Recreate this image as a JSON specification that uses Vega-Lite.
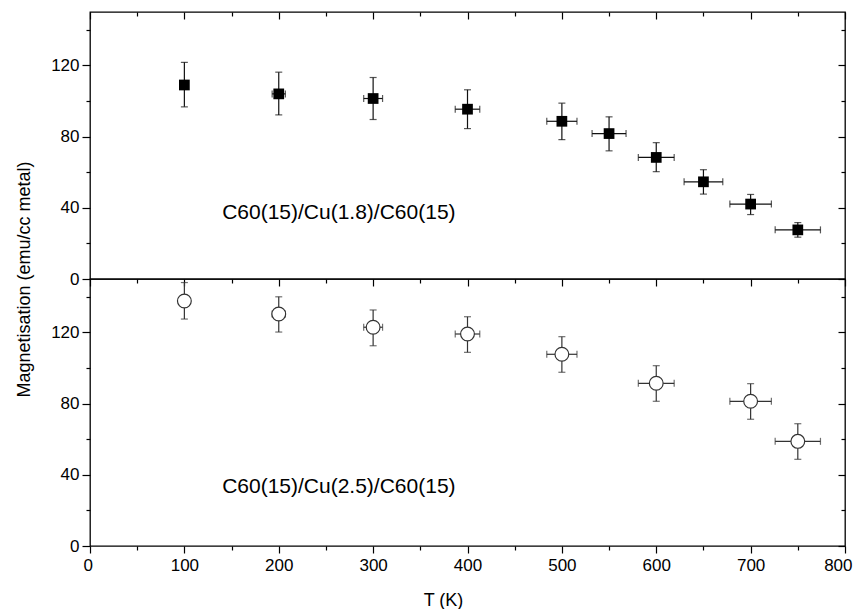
{
  "$schema": "https://vega.github.io/schema/vega-lite/v6.json",
  "padding": {"left": 14, "top": 10, "right": 3, "bottom": 0},
  "background": "white",
  "datasets": {
    "cu18": [
      {"T": 100, "M": 109.0, "Mlo": 96.7, "Mhi": 121.7, "Tlo": 100, "Thi": 100},
      {"T": 200, "M": 104.0, "Mlo": 92.2, "Mhi": 116.2, "Tlo": 193, "Thi": 207},
      {"T": 300, "M": 101.4, "Mlo": 89.6, "Mhi": 113.2, "Tlo": 290, "Thi": 310},
      {"T": 400, "M": 95.4, "Mlo": 84.5, "Mhi": 106.3, "Tlo": 387, "Thi": 413},
      {"T": 500, "M": 88.6, "Mlo": 78.3, "Mhi": 98.8, "Tlo": 484, "Thi": 516},
      {"T": 550, "M": 81.7, "Mlo": 72.0, "Mhi": 91.1, "Tlo": 532, "Thi": 568},
      {"T": 600, "M": 68.3, "Mlo": 60.3, "Mhi": 76.6, "Tlo": 581, "Thi": 619},
      {"T": 650, "M": 54.6, "Mlo": 47.7, "Mhi": 61.4, "Tlo": 629.5, "Thi": 670.5},
      {"T": 700, "M": 42.1, "Mlo": 36.2, "Mhi": 47.5, "Tlo": 678, "Thi": 722},
      {"T": 750, "M": 27.6, "Mlo": 23.5, "Mhi": 31.7, "Tlo": 726, "Thi": 774}
    ],
    "cu25": [
      {"T": 100, "M": 137.6, "Mlo": 127.5, "Mhi": 148.0, "Tlo": 95, "Thi": 105},
      {"T": 200, "M": 130.3, "Mlo": 120.2, "Mhi": 140.0, "Tlo": 193, "Thi": 207},
      {"T": 300, "M": 122.9, "Mlo": 112.5, "Mhi": 132.6, "Tlo": 290, "Thi": 310},
      {"T": 400, "M": 119.1, "Mlo": 108.8, "Mhi": 128.8, "Tlo": 387, "Thi": 413},
      {"T": 500, "M": 107.7, "Mlo": 97.6, "Mhi": 117.6, "Tlo": 484, "Thi": 516},
      {"T": 600, "M": 91.4, "Mlo": 81.3, "Mhi": 101.3, "Tlo": 581, "Thi": 619},
      {"T": 700, "M": 81.3, "Mlo": 71.2, "Mhi": 91.2, "Tlo": 678, "Thi": 722},
      {"T": 750, "M": 58.8, "Mlo": 48.7, "Mhi": 68.7, "Tlo": 726, "Thi": 774}
    ],
    "labels18": [{"T": 140, "M": 37, "label": "C60(15)/Cu(1.8)/C60(15)"}],
    "labels25": [{"T": 140, "M": 33, "label": "C60(15)/Cu(2.5)/C60(15)"}]
  },
  "vconcat": [
    {
      "width": 755,
      "height": 267,
      "layer": [
        {
          "data": {"name": "cu18"},
          "mark": {"type": "rule", "color": "#111", "strokeWidth": 1.2},
          "encoding": {
            "x": {"field": "T", "type": "quantitative", "scale": {"domain": [0, 800], "nice": false},
                  "axis": {"orient": "top", "values": [0, 100, 200, 300, 400, 500, 600, 700, 800], "labels": false, "tickSize": -7, "title": null}},
            "y": {"field": "Mlo", "type": "quantitative", "scale": {"domain": [0, 150], "nice": false},
                  "axis": {"orient": "left", "values": [0, 40, 80, 120], "tickSize": 8, "labelPadding": 3,
                           "title": "Magnetisation (emu/cc metal)", "titleX": -61, "titleY": 267, "titleAngle": -90, "titleAlign": "center", "titleBaseline": "alphabetic"}},
            "y2": {"field": "Mhi"}
          }
        },
        {
          "data": {"name": "cu18"},
          "mark": {"type": "rule", "color": "#111", "strokeWidth": 1.2},
          "encoding": {
            "x": {"field": "Tlo", "type": "quantitative",
                  "axis": {"orient": "top", "values": [50, 150, 250, 350, 450, 550, 650, 750], "labels": false, "tickSize": -4, "title": null}},
            "x2": {"field": "Thi"},
            "y": {"field": "M", "type": "quantitative",
                  "axis": {"orient": "left", "values": [20, 60, 100, 140], "labels": false, "tickSize": 4, "title": null}}
          }
        },
        {
          "data": {"name": "cu18"},
          "mark": {"type": "tick", "orient": "horizontal", "color": "#111", "thickness": 1.2, "size": 7},
          "encoding": {
            "x": {"field": "T", "type": "quantitative", "axis": null},
            "y": {"field": "Mlo", "type": "quantitative",
                  "axis": {"orient": "right", "values": [0, 40, 80, 120], "labels": false, "tickSize": -7, "title": null}}
          }
        },
        {
          "data": {"name": "cu18"},
          "mark": {"type": "tick", "orient": "horizontal", "color": "#111", "thickness": 1.2, "size": 7},
          "encoding": {
            "x": {"field": "T", "type": "quantitative", "axis": null},
            "y": {"field": "Mhi", "type": "quantitative",
                  "axis": {"orient": "right", "values": [20, 60, 100, 140], "labels": false, "tickSize": -4, "title": null}}
          }
        },
        {
          "data": {"name": "cu18"},
          "mark": {"type": "tick", "orient": "vertical", "color": "#111", "thickness": 1.2, "size": 7},
          "encoding": {
            "x": {"field": "Tlo", "type": "quantitative", "axis": null},
            "y": {"field": "M", "type": "quantitative", "axis": null}
          }
        },
        {
          "data": {"name": "cu18"},
          "mark": {"type": "tick", "orient": "vertical", "color": "#111", "thickness": 1.2, "size": 7},
          "encoding": {
            "x": {"field": "Thi", "type": "quantitative", "axis": null},
            "y": {"field": "M", "type": "quantitative", "axis": null}
          }
        },
        {
          "data": {"name": "cu18"},
          "mark": {"type": "point", "shape": "square", "filled": true, "size": 115, "color": "#000", "opacity": 1},
          "encoding": {
            "x": {"field": "T", "type": "quantitative", "axis": null},
            "y": {"field": "M", "type": "quantitative", "axis": null}
          }
        },
        {
          "data": {"name": "labels18"},
          "mark": {"type": "text", "align": "left", "baseline": "middle", "fontSize": 21, "font": "Liberation Sans", "color": "#000"},
          "encoding": {
            "x": {"field": "T", "type": "quantitative", "axis": null},
            "y": {"field": "M", "type": "quantitative", "axis": null},
            "text": {"field": "label"}
          }
        }
      ],
      "resolve": {"axis": {"x": "independent", "y": "independent"}}
    },
    {
      "width": 755,
      "height": 267,
      "layer": [
        {
          "data": {"name": "cu25"},
          "mark": {"type": "rule", "color": "#333", "strokeWidth": 1.2},
          "encoding": {
            "x": {"field": "T", "type": "quantitative", "scale": {"domain": [0, 800], "nice": false},
                  "axis": {"orient": "bottom", "values": [0, 100, 200, 300, 400, 500, 600, 700, 800], "tickSize": 7, "labelPadding": 4,
                           "labelFlush": true, "labelFlushOffset": 7,
                           "title": "T (K)", "titleX": 353, "titleY": 59, "titleBaseline": "alphabetic", "titleAlign": "center"}},
            "y": {"field": "Mlo", "type": "quantitative", "scale": {"domain": [0, 150], "nice": false},
                  "axis": {"orient": "left", "values": [0, 40, 80, 120], "tickSize": 8, "labelPadding": 3, "title": null}},
            "y2": {"field": "Mhi"}
          }
        },
        {
          "data": {"name": "cu25"},
          "mark": {"type": "rule", "color": "#333", "strokeWidth": 1.2},
          "encoding": {
            "x": {"field": "Tlo", "type": "quantitative",
                  "axis": {"orient": "bottom", "values": [50, 150, 250, 350, 450, 550, 650, 750], "labels": false, "tickSize": 4, "title": null}},
            "x2": {"field": "Thi"},
            "y": {"field": "M", "type": "quantitative",
                  "axis": {"orient": "left", "values": [20, 60, 100, 140], "labels": false, "tickSize": 4, "title": null}}
          }
        },
        {
          "data": {"name": "cu25"},
          "mark": {"type": "tick", "orient": "horizontal", "color": "#333", "thickness": 1.2, "size": 7},
          "encoding": {
            "x": {"field": "T", "type": "quantitative",
                  "axis": {"orient": "top", "values": [0, 100, 200, 300, 400, 500, 600, 700, 800], "labels": false, "tickSize": -7, "title": null}},
            "y": {"field": "Mlo", "type": "quantitative",
                  "axis": {"orient": "right", "values": [0, 40, 80, 120], "labels": false, "tickSize": -7, "title": null}}
          }
        },
        {
          "data": {"name": "cu25"},
          "mark": {"type": "tick", "orient": "horizontal", "color": "#333", "thickness": 1.2, "size": 7},
          "encoding": {
            "x": {"field": "T", "type": "quantitative",
                  "axis": {"orient": "top", "values": [50, 150, 250, 350, 450, 550, 650, 750], "labels": false, "tickSize": -4, "title": null}},
            "y": {"field": "Mhi", "type": "quantitative",
                  "axis": {"orient": "right", "values": [20, 60, 100, 140], "labels": false, "tickSize": -4, "title": null}}
          }
        },
        {
          "data": {"name": "cu25"},
          "mark": {"type": "tick", "orient": "vertical", "color": "#333", "thickness": 1.2, "size": 7},
          "encoding": {
            "x": {"field": "Tlo", "type": "quantitative", "axis": null},
            "y": {"field": "M", "type": "quantitative", "axis": null}
          }
        },
        {
          "data": {"name": "cu25"},
          "mark": {"type": "tick", "orient": "vertical", "color": "#333", "thickness": 1.2, "size": 7},
          "encoding": {
            "x": {"field": "Thi", "type": "quantitative", "axis": null},
            "y": {"field": "M", "type": "quantitative", "axis": null}
          }
        },
        {
          "data": {"name": "cu25"},
          "mark": {"type": "point", "shape": "circle", "filled": false, "fill": "white", "size": 190, "stroke": "#333", "strokeWidth": 1.2, "opacity": 1},
          "encoding": {
            "x": {"field": "T", "type": "quantitative", "axis": null},
            "y": {"field": "M", "type": "quantitative", "axis": null}
          }
        },
        {
          "data": {"name": "labels25"},
          "mark": {"type": "text", "align": "left", "baseline": "middle", "fontSize": 21, "font": "Liberation Sans", "color": "#000"},
          "encoding": {
            "x": {"field": "T", "type": "quantitative", "axis": null},
            "y": {"field": "M", "type": "quantitative", "axis": null},
            "text": {"field": "label"}
          }
        }
      ],
      "resolve": {"axis": {"x": "independent", "y": "independent"}}
    }
  ],
  "spacing": 0,
  "bounds": "flush",
  "config": {
    "font": "Liberation Sans",
    "view": {"stroke": "#000", "strokeWidth": 1.3},
    "axis": {
      "domain": false,
      "grid": false,
      "tickColor": "#000",
      "tickWidth": 1.2,
      "labelFont": "Liberation Sans",
      "labelFontSize": 17,
      "labelColor": "#000",
      "titleFont": "Liberation Sans",
      "titleFontSize": 18,
      "titleFontWeight": "normal",
      "titleColor": "#000"
    }
  }
}
